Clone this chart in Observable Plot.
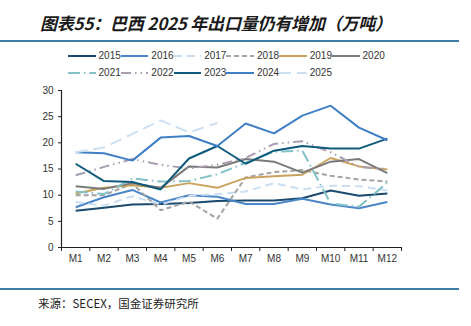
<!DOCTYPE html>
<html><head><meta charset="utf-8">
<script src="https://cdn.jsdelivr.net/npm/d3@7"></script>
<script src="https://cdn.jsdelivr.net/npm/@observablehq/plot@0.6"></script>
<style>
body{margin:0;background:#fff;width:471px;height:326px;position:relative;overflow:hidden;font-family:"Liberation Sans",Arial,sans-serif;}
#title{position:absolute;left:40px;top:12px;font-family:"Noto Sans CJK SC",sans-serif;font-size:17px;line-height:22px;font-weight:bold;font-style:italic;color:#1a1a1a;white-space:nowrap;letter-spacing:-0.2px;}
.hr{position:absolute;left:0;width:459px;height:2px;background:#3f7aa3;}
#legend{position:absolute;left:68px;top:47px;width:330px;}
.row{display:flex;height:17px;align-items:center;}
.item{display:flex;align-items:center;width:52.8px;font-size:10px;color:#333;}
.item svg{margin-right:3px;}
#chart{position:absolute;left:0;top:80px;}
#source{position:absolute;left:38px;top:295px;font-family:"Noto Sans CJK SC",sans-serif;font-size:11.5px;color:#222;white-space:nowrap;}
</style></head>
<body>
<div id="title">图表55：巴西 2025 年出口量仍有增加（万吨）</div>
<div class="hr" style="top:40px"></div>
<div id="legend"></div>
<div id="chart"></div>
<div class="hr" style="top:288px"></div>
<div id="source">来源：SECEX，国金证券研究所</div>
<script>
const months = ["M1","M2","M3","M4","M5","M6","M7","M8","M9","M10","M11","M12"];
const years = ["2015","2016","2017","2018","2019","2020","2021","2022","2023","2024","2025"];
const y2015 = [7.0, 7.6, 8.2, 8.3, 8.5, 8.9, 9.0, 9.0, 9.4, 10.9, 9.9, 10.3];
const y2016 = [7.7, 9.6, 11.0, 8.6, 10.0, 9.7, 8.3, 8.3, 9.3, 8.2, 7.5, 8.7];
const y2017 = [8.7, 8.0, 9.8, 8.2, 9.9, 10.2, 10.7, 12.3, 11.1, 11.8, 11.7, 10.9];
const y2018 = [10.0, 10.0, 12.2, 7.1, 8.8, 5.5, 13.4, 14.4, 14.8, 13.7, 13.0, 12.6];
const y2019 = [10.3, 11.4, 11.9, 11.4, 12.3, 11.4, 13.3, 13.6, 13.9, 17.1, 15.5, 14.9];
const y2020 = [11.7, 11.2, 12.3, 11.4, 15.5, 15.3, 16.9, 16.4, 14.3, 16.4, 16.9, 14.2];
const y2021 = [10.7, 10.2, 13.2, 12.6, 12.7, 14.0, 16.2, 18.3, 18.5, 8.4, 7.8, 12.4];
const y2022 = [13.8, 15.4, 16.9, 15.8, 15.1, 15.8, 17.1, 19.8, 20.3, 18.2, 15.4, 15.0];
const y2023 = [16.0, 12.7, 12.5, 11.1, 17.0, 19.4, 16.0, 18.5, 19.4, 18.9, 18.9, 20.8];
const y2024 = [18.2, 18.0, 16.6, 21.0, 21.3, 19.4, 23.7, 21.8, 25.2, 27.1, 22.9, 20.5];
const y2025 = [18.2, 19.1, 21.7, 24.3, 22.0, 23.8];
const yTicks = [0, 5, 10, 15, 20, 25, 30];

const seriesValues = [y2015,y2016,y2017,y2018,y2019,y2020,y2021,y2022,y2023,y2024,y2025];
const styles = {
  "2015": {color:"#1b4a6e", dash:null},
  "2016": {color:"#4a86c8", dash:null},
  "2017": {color:"#c9def2", dash:"8,5"},
  "2018": {color:"#a3a3a3", dash:"5,3"},
  "2019": {color:"#c9a35e", dash:null},
  "2020": {color:"#7a7a7a", dash:null},
  "2021": {color:"#82c2c7", dash:"12,4,1.5,4"},
  "2022": {color:"#ab9db2", dash:"10,4,1.5,4,1.5,4"},
  "2023": {color:"#0f5a7c", dash:null},
  "2024": {color:"#3f7fc6", dash:null},
  "2025": {color:"#cce0f2", dash:"12,6"}
};

const rows = [];
years.forEach((yr, i) => seriesValues[i].forEach((v, j) => rows.push({year: yr, m: j + 1, v})));

const marks = years.map(yr => Plot.line(rows.filter(d => d.year === yr), {
  x: "m", y: "v", stroke: styles[yr].color, strokeWidth: 2,
  strokeDasharray: styles[yr].dash || undefined, strokeLinejoin: "miter", strokeLinecap: "butt"
}));

const plot = Plot.plot({
  width: 471, height: 192,
  marginLeft: 61, marginRight: 70, marginTop: 10, marginBottom: 25,
  style: {fontFamily: "Liberation Sans, Arial, sans-serif", fontSize: "10px", color: "#333", background: "transparent"},
  x: {domain: [0.5, 12.5], axis: null},
  y: {domain: [0, 30], axis: null},
  marks: [
    Plot.axisY({ticks: yTicks, tickSize: 3, tickPadding: 5, label: null, stroke: "#222"}),
    Plot.axisX({ticks: d3.range(1, 13), tickSize: 0, tickPadding: 7, tickFormat: d => months[d - 1], label: null}),
    Plot.axisX({ticks: d3.range(0.5, 13, 1), tickSize: 4, tickFormat: () => "", label: null, stroke: "#222"}),
    ...marks,
    Plot.ruleY([0], {stroke: "#222", strokeWidth: 1.2}),
    Plot.ruleX([0.5], {y1: 0, y2: 30, stroke: "#222", strokeWidth: 1.2})
  ]
});
document.getElementById("chart").appendChild(plot);

// legend
const leg = document.getElementById("legend");
[years.slice(0, 6), years.slice(6)].forEach(group => {
  const row = document.createElement("div");
  row.className = "row";
  group.forEach(yr => {
    const it = document.createElement("div");
    it.className = "item";
    const s = styles[yr];
    it.innerHTML = `<svg width="29" height="6"><line x1="0" y1="3" x2="29" y2="3" stroke="${s.color}" stroke-width="2"${s.dash ? ` stroke-dasharray="${s.dash}"` : ""}/></svg><span>${yr}</span>`;
    row.appendChild(it);
  });
  leg.appendChild(row);
});
</script>
</body></html>
